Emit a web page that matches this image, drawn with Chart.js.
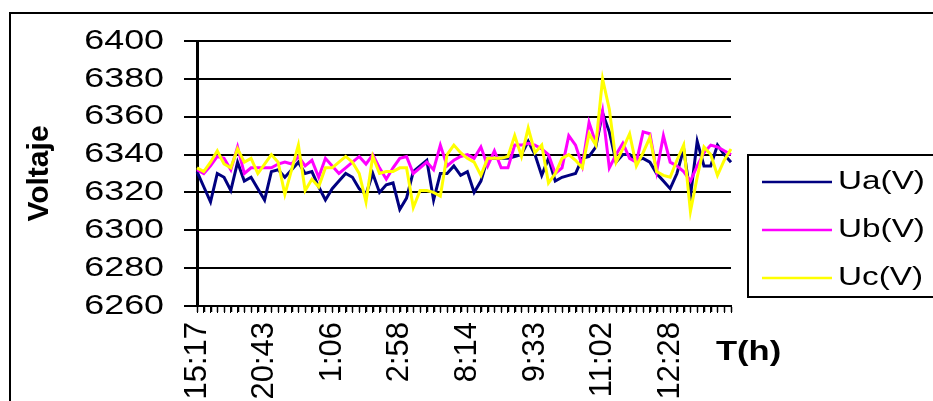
<!DOCTYPE html>
<html>
<head>
<meta charset="utf-8">
<title>Voltaje</title>
<script src="https://cdn.jsdelivr.net/npm/chart.js@4.4.1/dist/chart.umd.min.js"></script>
<style>
  html, body { margin: 0; padding: 0; background: #fff; }
  #wrap { width: 933px; height: 401px; overflow: hidden; }
</style>
</head>
<body>
<div id="wrap"><canvas id="voltChart" width="933" height="401"></canvas></div>
<script>
// ---- data ----
const tickLabels = ['15:17', '20:43', '1:06', '2:58', '8:14', '9:33', '11:02', '12:28'];
const labelStep = 10;   // one time label every 10 readings
const yTicks = [6260, 6280, 6300, 6320, 6340, 6360, 6380, 6400];
const seriesNames = ['Ua(V)', 'Ub(V)', 'Uc(V)'];

const ua = [6331, 6323, 6315, 6330, 6328, 6321, 6336, 6326, 6328, 6322,
            6316, 6331, 6332, 6328, 6332, 6336, 6330, 6331, 6323, 6316,
            6322, 6326, 6330, 6328, 6322, 6319, 6330, 6320, 6324, 6325,
            6311, 6317, 6331, 6334, 6337, 6316, 6330, 6330, 6334, 6329,
            6331, 6320, 6326, 6338, 6338, 6338, 6338, 6339, 6340, 6347,
            6340, 6329, 6338, 6326, 6328, 6329, 6330, 6338, 6339, 6344,
            6362, 6352, 6336, 6340, 6340, 6337, 6338, 6336, 6330, 6326,
            6322, 6330, 6343, 6318, 6347, 6334, 6334, 6345, 6340, 6336];

const ub = [6332, 6330, 6334, 6339, 6338, 6332, 6344, 6330, 6333, 6333,
            6333, 6333, 6335, 6336, 6335, 6339, 6334, 6337, 6328, 6338,
            6334, 6330, 6333, 6336, 6339, 6335, 6340, 6333, 6327, 6333,
            6338, 6339, 6330, 6333, 6336, 6332, 6345, 6334, 6337, 6339,
            6340, 6338, 6344, 6334, 6342, 6333, 6333, 6345, 6345, 6346,
            6345, 6343, 6340, 6330, 6333, 6350, 6345, 6334, 6357, 6346,
            6363, 6333, 6340, 6346, 6338, 6336, 6352, 6351, 6331, 6350,
            6336, 6334, 6331, 6326, 6334, 6341, 6345, 6344, 6342, 6340];

const uc = [6333, 6331, 6336, 6342, 6335, 6333, 6343, 6336, 6338, 6330,
            6335, 6340, 6336, 6319, 6332, 6345, 6321, 6327, 6323, 6333,
            6333, 6336, 6339, 6336, 6330, 6315, 6339, 6330, 6331, 6331,
            6333, 6333, 6312, 6321, 6321, 6320, 6318, 6340, 6345, 6341,
            6338, 6336, 6329, 6338, 6338, 6338, 6339, 6350, 6339, 6354,
            6341, 6345, 6325, 6330, 6338, 6340, 6337, 6333, 6351, 6345,
            6380, 6364, 6336, 6343, 6351, 6334, 6341, 6349, 6331, 6329,
            6328, 6337, 6345, 6310, 6328, 6344, 6340, 6329, 6337, 6343];

// every reading gets a category (and a tick mark), only every 10th one is named
const categories = ua.map((v, i) => i % labelStep === 0 ? tickLabels[i / labelStep] : '');

const FONT = '"Liberation Sans", Arial, sans-serif';
const TEXT_STRETCH = 1.28;  // horizontal text in the original is drawn wide

const excelLook = {
    id: 'excelLook',
    beforeDraw(chart) {
        const ctx = chart.ctx;
        if (ctx.plainFillText) return;
        ctx.plainFillText = ctx.fillText;
        ctx.fillText = function(text, x, y, maxWidth) {
            const m = this.getTransform();
            if (m.b !== 0 || m.c !== 0) {
                // rotated text stays as it is
                return maxWidth === undefined ? this.plainFillText(text, x, y) : this.plainFillText(text, x, y, maxWidth);
            }
            this.save();
            this.translate(x, y);
            this.scale(TEXT_STRETCH, 1);
            this.plainFillText(text, 0, 0);
            this.restore();
        };
    },
    afterDraw(chart) {
        const ctx = chart.ctx;
        ctx.save();

        // small tick marks under the time axis, one per reading
        const xs = chart.scales.x;
        ctx.strokeStyle = '#000';
        ctx.lineWidth = 1.5;
        ctx.beginPath();
        xs.ticks.forEach((t, i) => {
            const x = Math.round(xs.getPixelForTick(i)) + 0.5;
            ctx.moveTo(x, xs.top + 1);
            ctx.lineTo(x, xs.top + 6);
        });
        ctx.stroke();

        ctx.lineWidth = 2;
        ctx.strokeRect(10, 13, 1000, 500);   // outer frame, runs off the page
        ctx.strokeRect(748, 155, 300, 142);  // legend frame

        ctx.fillStyle = '#000';
        ctx.font = '26px ' + FONT;
        ctx.textBaseline = 'middle';
        chart.data.datasets.forEach((ds, i) => {
            const y = 182 + i * 48;
            ctx.strokeStyle = ds.borderColor;
            ctx.lineWidth = 2.5;
            ctx.beginPath();
            ctx.moveTo(762, y);
            ctx.lineTo(832, y);
            ctx.stroke();
            ctx.fillText(ds.label, 838, y);
        });

        ctx.font = 'bold 27px ' + FONT;
        ctx.textBaseline = 'alphabetic';
        ctx.fillText('T(h)', 716, 360);
        ctx.restore();
    }
};

const ctx = document.getElementById('voltChart').getContext('2d');

new Chart(ctx, {
    type: 'line',
    data: {
        labels: categories,
        datasets: [
            { label: seriesNames[0], data: ua, borderColor: '#000080', order: 3 },
            { label: seriesNames[1], data: ub, borderColor: '#ff00ff', order: 2 },
            { label: seriesNames[2], data: uc, borderColor: '#ffff00', order: 1 }
        ]
    },
    options: {
        responsive: false,
        animation: false,
        layout: { padding: { left: 18, top: 41, right: 202, bottom: 0 } },
        elements: {
            line: { borderWidth: 3, tension: 0, fill: false },
            point: { radius: 0 }
        },
        plugins: {
            legend: { display: false },
            tooltip: { enabled: false }
        },
        scales: {
            x: {
                offset: false,
                grid: { drawOnChartArea: false, drawTicks: true, tickLength: 7, color: '#000' },
                border: { display: true, color: '#000', width: 2 },
                ticks: {
                    autoSkip: false,
                    maxRotation: 90,
                    minRotation: 90,
                    padding: 9,
                    color: '#000',
                    font: { family: FONT, size: 31 }
                },
                afterFit(scale) { scale.height = 95; }
            },
            y: {
                min: yTicks[0],
                max: yTicks[yTicks.length - 1],
                ticks: {
                    stepSize: yTicks[1] - yTicks[0],
                    padding: 20,
                    color: '#000',
                    font: { family: FONT, size: 28 },
                    callback: v => String(v)
                },
                grid: { color: '#000', lineWidth: 2, tickLength: 13 },
                border: { display: true, color: '#000', width: 3 },
                title: {
                    display: true,
                    text: 'Voltaje',
                    color: '#000',
                    font: { family: FONT, size: 30, weight: 'bold' },
                    padding: { top: 4, bottom: 4 }
                },
                afterFit(scale) { scale.width = 179; }
            }
        }
    },
    plugins: [excelLook]
});
</script>
</body>
</html>
